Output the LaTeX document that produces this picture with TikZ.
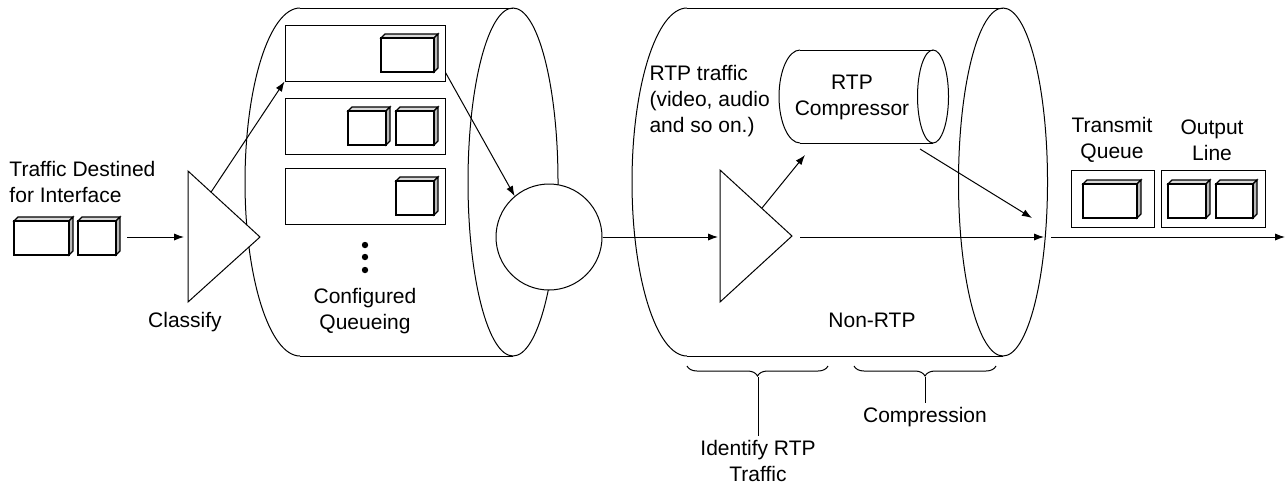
\documentclass[tikz,border=0pt]{standalone}
\usepackage{fontspec}
\setmainfont{Liberation Sans}
\usetikzlibrary{shapes, arrows.meta, positioning, calc, decorations.pathreplacing}
\tikzstyle{qbox} = [draw, fill=white, rectangle, inner sep=0pt]
\tikzstyle{lbl} = [font=\fontsize{10.5}{13}\selectfont, inner sep=0pt, align=center]
\tikzstyle{flow} = [-{Latex[length=5pt,width=3.6pt]}]
\tikzstyle{brc} = [decorate, decoration={brace, mirror, amplitude=5pt}]
% a packet: corners of its front face
\newcommand{\pkt}[4]{%
  \filldraw[fill=gray!30, line width=0.6pt] (#1,#2) -- (#1+4,#2-4) -- (#3+4,#2-4) -- (#3,#2) -- cycle;
  \filldraw[fill=gray!55, line width=0.6pt] (#3,#2) -- (#3+4,#2-4) -- (#3+4,#4-4) -- (#3,#4) -- cycle;
  \filldraw[fill=white, line width=0.7pt] (#1,#2) rectangle (#3,#4);}

\begin{document}
\begin{tikzpicture}[x=0.5pt, y=-0.5pt, >=latex, line width=0.5pt]
  \useasboundingbox (0,0) rectangle (1288,489);

  % queueing pipe
  \draw (300,8) -- (513,8) (300,356) -- (513,356);
  \draw (300,8) arc[start angle=90, end angle=270, x radius=27.5pt, y radius=87pt];
  \draw (513,182) ellipse[x radius=22.5pt, y radius=87pt];

  % compression pipe
  \draw (687,8) -- (1003,8) (687,356) -- (1003,356);
  \draw (687,8) arc[start angle=90, end angle=270, x radius=27.5pt, y radius=87pt];
  \draw (1003,182) ellipse[x radius=22.25pt, y radius=87pt];

  % rtp compressor
  \draw (800,50) -- (933,50) (800,143) -- (933,143);
  \draw (800,50) arc[start angle=90, end angle=270, x radius=10.5pt, y radius=23.25pt];
  \draw (933,96.5) ellipse[x radius=7.75pt, y radius=23.25pt];
  \node[lbl] (comp) at (852,97) {RTP\\Compressor};

  % incoming traffic
  \node[lbl, align=left, anchor=west] (dest) at (9,182) {Traffic Destined\\for Interface};
  \pkt{14}{221}{69}{255}
  \pkt{78}{221}{116}{255}
  \coordinate (in) at (127,237);

  % classifier
  \coordinate (clsA) at (188,171);
  \coordinate (clsB) at (188,302);
  \coordinate (clsC) at (260,237);
  \filldraw[fill=white] (clsA) -- (clsB) -- (clsC) -- cycle;
  \node[lbl] (clsl) at (185,322) {Classify};
  \draw[flow] (in) -- ([xshift=-2pt]clsA |- clsC);

  % queues
  \node[qbox, minimum width=80pt, minimum height=28pt] (q1) at (365,53) {};
  \node[qbox, minimum width=80pt, minimum height=28pt] (q2) at (365,126) {};
  \node[qbox, minimum width=80pt, minimum height=28pt] (q3) at (365,196) {};
  \pkt{381}{38}{434}{72}
  \pkt{348}{111}{386}{145}
  \pkt{396}{111}{434}{145}
  \pkt{396}{181}{434}{215}
  \foreach \y in {245,257,270} \fill (365,\y) circle[radius=1.6pt];
  \node[lbl] (cfg) at (365,311) {Configured\\Queueing};
  \draw[flow] ($(clsA)!0.32!(clsC)$) -- (q1.south west);

  % scheduler
  \node[draw, circle, fill=white, minimum size=53pt, inner sep=0pt] (mux) at (549,237) {};
  \draw[flow] ([yshift=4.5pt]q1.south east) -- (mux.130);

  % rtp identification
  \coordinate (rtpA) at (720,170);
  \coordinate (rtpB) at (720,302);
  \coordinate (rtpC) at (792,236);
  \filldraw[fill=white] (rtpA) -- (rtpB) -- (rtpC) -- cycle;
  \draw[flow] (mux.east) -- ([xshift=-1pt]rtpA |- mux);
  \node[lbl, align=left, anchor=west] (rtpl) at (649,101) {RTP traffic\\(video, audio\\and so on.)};
  \coordinate (compin) at (805,155);
  \coordinate (compout) at (920,149);
  \coordinate (join) at (1032,218);
  \draw[flow] ($(rtpA)!0.58!(rtpC)$) -- (compin);
  \draw[flow] (compout) -- (join);
  \coordinate (pipeout) at (1044,237);
  \draw[flow] ([xshift=4pt]rtpC |- mux) -- (pipeout);
  \node[lbl] (nonrtp) at (872,320) {Non-RTP};

  % output side
  \node[qbox, minimum width=41.5pt, minimum height=28.5pt] (tq) at (1112.5,198.5) {};
  \node[qbox, minimum width=52pt, minimum height=28.5pt] (ol) at (1213,198.5) {};
  \pkt{1083}{184}{1137}{218}
  \pkt{1168}{184}{1206}{218}
  \pkt{1216}{184}{1253}{218}
  \node[lbl] (tql) at (1112,140) {Transmit\\Queue};
  \node[lbl] (oll) at (1212,140) {Output\\Line};
  \coordinate (lineout) at (1051,237);
  \coordinate (lineend) at (1285,237);
  \draw[flow] (lineout) -- (lineend);

  % braces
  \draw[brc] (687,366) -- (828,366);
  \draw[brc] (854,366) -- (996,366);
  \coordinate (b1) at (758,377);
  \coordinate (b2) at (925,377);
  \node[lbl] (ident) at (758,461) {Identify RTP\\Traffic};
  \node[lbl] (cmpr) at (925,417) {Compression};
  \draw (b1) -- ([yshift=2pt]ident.north);
  \draw (b2) -- ([yshift=2pt]cmpr.north);
\end{tikzpicture}
\end{document}
